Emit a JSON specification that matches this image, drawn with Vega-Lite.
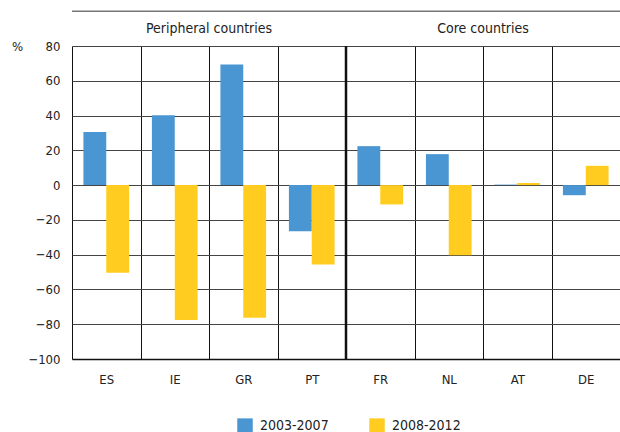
{
  "$schema": "https://vega.github.io/schema/vega-lite/v6.json",
  "width": 548,
  "height": 313,
  "autosize": {"type": "none"},
  "padding": {"left": 72, "top": 46, "right": 0, "bottom": 73},
  "background": "white",
  "config": {
    "font": "Liberation Sans Narrow, DejaVu Sans Condensed, Roboto Condensed, Liberation Sans, Arial",
    "view": {"stroke": null},
    "axis": {"labelOverlap": false},
    "axisX": {
      "title": null, "labelAngle": 0, "labelFontSize": 13, "labelColor": "#222",
      "labelPadding": 14, "ticks": false, "domain": true, "domainColor": "#111",
      "domainWidth": 1.5, "grid": true, "gridColor": "#111", "gridOpacity": 1,
      "tickBand": "extent"
    },
    "axisY": {
      "titleAngle": 0, "titleX": -55, "titleY": 0,
      "titleAlign": "center", "titleBaseline": "middle", "titleFontSize": 13,
      "titleFontWeight": "normal", "titleColor": "#222",
      "labelFontSize": 13, "labelColor": "#222", "labelPadding": 12,
      "ticks": false, "domain": false, "grid": true, "gridColor": "#444", "gridOpacity": 1
    }
  },
  "datasets": {
    "bars": [
      {"country": "ES", "period": "2003-2007", "value": 30.5},
      {"country": "ES", "period": "2008-2012", "value": -50.4},
      {"country": "IE", "period": "2003-2007", "value": 40.2},
      {"country": "IE", "period": "2008-2012", "value": -77.6},
      {"country": "GR", "period": "2003-2007", "value": 69.4},
      {"country": "GR", "period": "2008-2012", "value": -76.3},
      {"country": "PT", "period": "2003-2007", "value": -26.6},
      {"country": "PT", "period": "2008-2012", "value": -45.6},
      {"country": "FR", "period": "2003-2007", "value": 22.4},
      {"country": "FR", "period": "2008-2012", "value": -11.1},
      {"country": "NL", "period": "2003-2007", "value": 17.8},
      {"country": "NL", "period": "2008-2012", "value": -40.3},
      {"country": "AT", "period": "2003-2007", "value": 0.3},
      {"country": "AT", "period": "2008-2012", "value": 1.2},
      {"country": "DE", "period": "2003-2007", "value": -5.8},
      {"country": "DE", "period": "2008-2012", "value": 11.1}
    ],
    "headers": [
      {"header": "Peripheral countries", "at": "GR", "level": 90},
      {"header": "Core countries", "at": "AT", "level": 90}
    ],
    "sep": [{"at": "FR"}],
    "top": [{"level": 100}]
  },
  "layer": [
    {
      "data": {"name": "bars"},
      "mark": {"type": "bar"},
      "encoding": {
        "x": {
          "field": "country", "type": "nominal",
          "scale": {"domain": ["ES", "IE", "GR", "PT", "FR", "NL", "AT", "DE"], "paddingInner": 0, "paddingOuter": 0},
          "axis": {"title": null}
        },
        "xOffset": {
          "field": "period", "type": "nominal",
          "scale": {"paddingInner": 0, "paddingOuter": 0.5}
        },
        "y": {
          "field": "value", "type": "quantitative",
          "scale": {"domain": [-100, 80], "nice": false, "zero": false},
          "axis": {"title": "%", "values": [-100, -80, -60, -40, -20, 0, 20, 40, 60, 80]}
        },
        "color": {
          "field": "period", "type": "nominal",
          "scale": {"domain": ["2003-2007", "2008-2012"], "range": ["#4A96D2", "#FFCC1F"]},
          "legend": {
            "title": null, "orient": "none", "direction": "horizontal",
            "legendX": 165, "legendY": 372, "symbolType": "square", "symbolSize": 240,
            "symbolStrokeWidth": 0, "labelFontSize": 14, "labelColor": "#222",
            "labelOffset": 7, "columnPadding": 40, "padding": 0
          }
        }
      }
    },
    {
      "data": {"name": "sep"},
      "mark": {"type": "rule", "color": "#111", "strokeWidth": 2.5},
      "encoding": {
        "x": {"field": "at", "type": "nominal", "bandPosition": 0, "axis": {"title": null}}
      }
    },
    {
      "data": {"name": "top"},
      "mark": {"type": "rule", "color": "#777", "strokeWidth": 1.5},
      "encoding": {
        "y": {"field": "level", "type": "quantitative", "axis": {"title": "%", "values": [-100, -80, -60, -40, -20, 0, 20, 40, 60, 80]}}
      }
    },
    {
      "data": {"name": "headers"},
      "mark": {"type": "text", "fontSize": 14, "color": "#222", "baseline": "middle", "align": "center"},
      "encoding": {
        "x": {"field": "at", "type": "nominal", "bandPosition": 0, "axis": {"title": null}},
        "y": {"field": "level", "type": "quantitative", "axis": {"title": "%", "values": [-100, -80, -60, -40, -20, 0, 20, 40, 60, 80]}},
        "text": {"field": "header"}
      }
    }
  ]
}
